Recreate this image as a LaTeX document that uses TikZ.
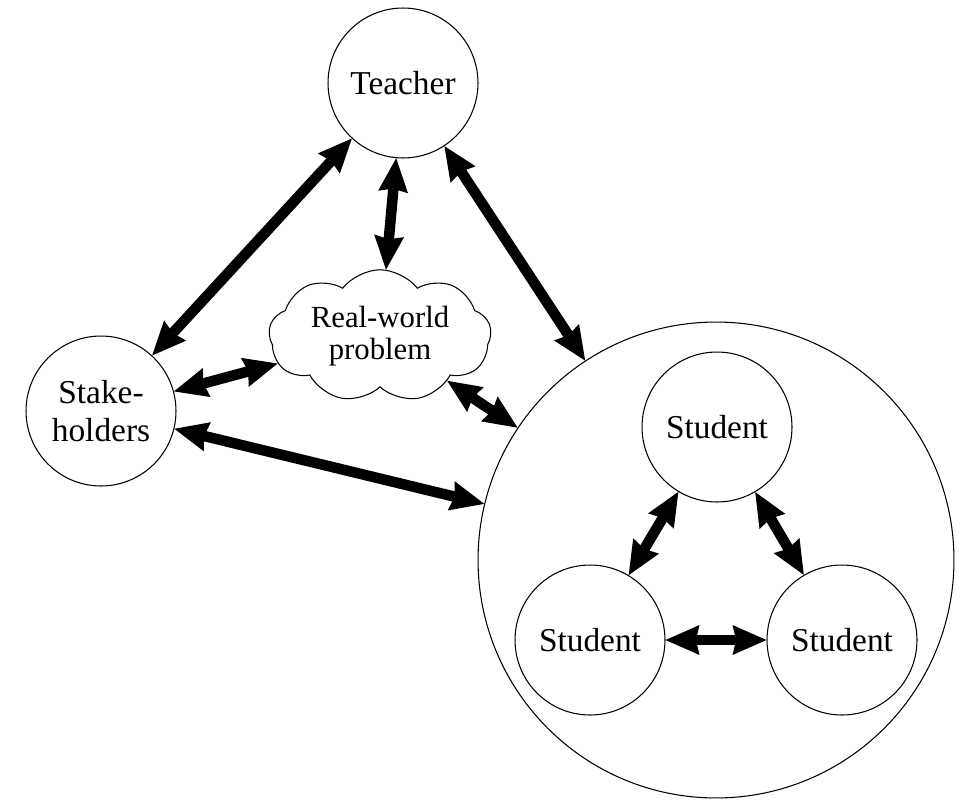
\documentclass[tikz,border=0pt]{standalone}
\usepackage{fontspec}
\setmainfont{Liberation Serif}
\usepackage{tikz}
\usetikzlibrary{positioning}
\usetikzlibrary{arrows.meta}
\usetikzlibrary{shapes.symbols}

\tikzset{
  actor/.style={circle, draw, line width=0.6pt, minimum size=3cm, inner sep=0pt, align=center, font=\fontsize{19}{22}\selectfont},
  team/.style={circle, draw, line width=0.6pt, minimum size=9.52cm, inner sep=0pt},
  problem/.style={cloud, cloud puffs=9, cloud puff arc=105, cloud ignores aspect, draw, line width=0.6pt, minimum width=4.45cm, minimum height=2.65cm, inner sep=0pt, align=center, font=\fontsize{17.5}{18.5}\selectfont},
  link/.style={line width=6pt, {Stealth[length=0.68cm, width=0.6cm, inset=0.07cm, line width=0pt]}-{Stealth[length=0.68cm, width=0.6cm, inset=0.07cm, line width=0pt]}}
}

\begin{document}
\begin{tikzpicture}[x=0.02cm, y=-0.02cm]
\useasboundingbox (0,0) rectangle (959,805);

% outer group of students
\node[team] (class) at (716,560) {};

\node[actor] (teacher) at (403,83) {Teacher};
\node[actor] (stake) at (101,411) {Stake-\\holders};
\node[problem] (world) at (380,336) {Real-world\\problem};

\node[actor] (stud1) at (717,427) {Student};
\node[actor] (stud2) at (590,640) {Student};
\node[actor] (stud3) at (842,640) {Student};

% links between the parties
\draw[link] (stake) -- (teacher);
\draw[link] (teacher) -- (world);
\draw[link] (teacher) -- (class);
\draw[link] (stake) -- (world);
\draw[link] (stake) -- (class);
\draw[link] (world) -- (class);

% links inside the group
\draw[link] (stud1) -- (stud2);
\draw[link] (stud1) -- (stud3);
\draw[link] (stud2) -- (stud3);

\end{tikzpicture}
\end{document}
